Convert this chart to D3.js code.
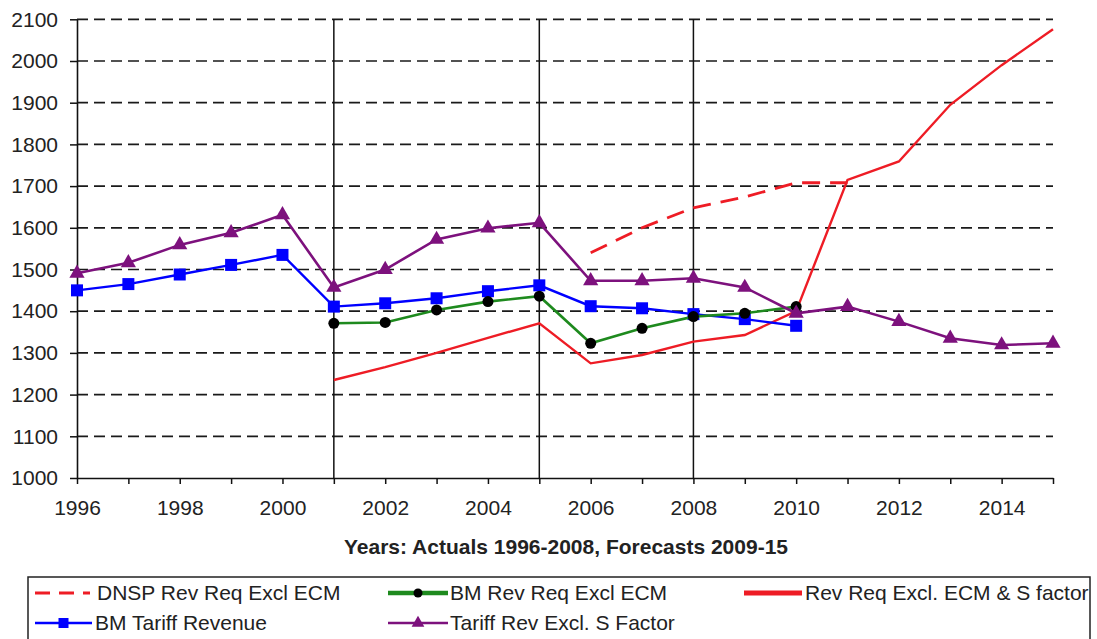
<!DOCTYPE html>
<html>
<head>
<meta charset="utf-8">
<script src="https://cdn.jsdelivr.net/npm/d3@7"></script>
<style>
  html, body { margin: 0; padding: 0; background: #fff; }
  svg { display: block; font-family: "Liberation Sans", Arial, sans-serif; }
</style>
</head>
<body>
<svg id="chart" width="1097" height="639"></svg>
<script>
// ---- data ----
const yearsAll = d3.range(1996, 2016);
const yTicks = d3.range(1000, 2101, 100);
const xLabelYears = [1996, 1998, 2000, 2002, 2004, 2006, 2008, 2010, 2012, 2014];
const dividerYears = [2001, 2005, 2008];

const dnspYears = [2006, 2007, 2008, 2009, 2010, 2011];
const dnspValues = [1540, 1600, 1648, 1674, 1708, 1708];

const revReqYears = [2001, 2002, 2003, 2004, 2005, 2006, 2007, 2008, 2009, 2010, 2011, 2012, 2013, 2014, 2015];
const revReqValues = [1235, 1266, 1300, 1336, 1371, 1275, 1295, 1327, 1343, 1400, 1715, 1759, 1895, 1990, 2076];

const bmTariffYears = [1996, 1997, 1998, 1999, 2000, 2001, 2002, 2003, 2004, 2005, 2006, 2007, 2008, 2009, 2010];
const bmTariffValues = [1450, 1465, 1488, 1511, 1535, 1411, 1419, 1431, 1448, 1462, 1412, 1407, 1393, 1381, 1365];

const bmRevReqYears = [2001, 2002, 2003, 2004, 2005, 2006, 2007, 2008, 2009, 2010];
const bmRevReqValues = [1371, 1373, 1403, 1423, 1436, 1323, 1359, 1387, 1395, 1411];

const tariffExSYears = [1996, 1997, 1998, 1999, 2000, 2001, 2002, 2003, 2004, 2005, 2006, 2007, 2008, 2009, 2010, 2011, 2012, 2013, 2014, 2015];
const tariffExSValues = [1491, 1516, 1559, 1588, 1631, 1457, 1500, 1572, 1599, 1612, 1473, 1473, 1479, 1457, 1395, 1411, 1375, 1335, 1319, 1323];

const xTitle = "Years: Actuals 1996-2008, Forecasts 2009-15";
const legendLabels = ["DNSP Rev Req Excl ECM", "BM Rev Req Excl ECM", "Rev Req Excl. ECM & S factor", "BM Tariff Revenue", "Tariff Rev Excl. S Factor"];

const cRed = "#ee1c25", cBlue = "#0000ff", cGreen = "#1e8a1e", cPurple = "#7d117d";

// ---- scales ----
const svg = d3.select("#chart");
const x = d3.scaleLinear().domain([1996, 2015]).range([77, 1053]);
const y = d3.scaleLinear().domain([1000, 2100]).range([478, 19.3]);

// gridlines
svg.append("g").selectAll("line").data(yTicks.filter(v => v > 1000)).join("line")
  .attr("x1", x(1996)).attr("x2", x(2015))
  .attr("y1", d => y(d)).attr("y2", d => y(d))
  .attr("stroke", "#1a1a1a").attr("stroke-width", 1.7).attr("stroke-dasharray", "11,6");

// divider lines
svg.append("g").selectAll("line").data(dividerYears).join("line")
  .attr("x1", d => x(d)).attr("x2", d => x(d))
  .attr("y1", y(2100)).attr("y2", y(1000))
  .attr("stroke", "#111").attr("stroke-width", 1.5);

// axes
const yAxis = svg.append("g").attr("transform", `translate(${x(1996)},0)`)
  .call(d3.axisLeft(y).tickValues(yTicks).tickFormat(d3.format("d")).tickSize(7).tickSizeOuter(0).tickPadding(12));
const xAxis = svg.append("g").attr("transform", `translate(0,${y(1000)})`)
  .call(d3.axisBottom(x).tickValues(yearsAll).tickFormat(d => xLabelYears.includes(d) ? String(d) : "").tickSize(6).tickSizeOuter(0).tickPadding(16));
[yAxis, xAxis].forEach(g => {
  g.select(".domain").attr("stroke", "#111").attr("stroke-width", 1.6);
  g.selectAll(".tick line").attr("stroke", "#111").attr("stroke-width", 1.5);
  g.selectAll(".tick text").attr("fill", "#222").style("font-size", "21px").style("font-family", "'Liberation Sans', Arial, sans-serif");
});

svg.append("text").attr("x", 566).attr("y", 554).attr("text-anchor", "middle")
  .style("font-size", "21px").style("font-weight", "bold").attr("fill", "#222").text(xTitle);

// lines
const line = d3.line().x(d => x(d[0])).y(d => y(d[1]));
const zip = (a, b) => a.map((v, i) => [v, b[i]]);

svg.append("path").attr("d", line(zip(dnspYears, dnspValues))).attr("fill", "none")
  .attr("stroke", cRed).attr("stroke-width", 2.8).attr("stroke-dasharray", "18,10");
svg.append("path").attr("d", line(zip(revReqYears, revReqValues))).attr("fill", "none")
  .attr("stroke", cRed).attr("stroke-width", 2.4);

svg.append("path").attr("d", line(zip(bmTariffYears, bmTariffValues))).attr("fill", "none")
  .attr("stroke", cBlue).attr("stroke-width", 2.4);
svg.append("g").selectAll("rect").data(zip(bmTariffYears, bmTariffValues)).join("rect")
  .attr("x", d => x(d[0]) - 6).attr("y", d => y(d[1]) - 6).attr("width", 12).attr("height", 12).attr("fill", cBlue);

svg.append("path").attr("d", line(zip(bmRevReqYears, bmRevReqValues))).attr("fill", "none")
  .attr("stroke", cGreen).attr("stroke-width", 2.6);
svg.append("g").selectAll("circle").data(zip(bmRevReqYears, bmRevReqValues)).join("circle")
  .attr("cx", d => x(d[0])).attr("cy", d => y(d[1])).attr("r", 5.5).attr("fill", "#000");

const tri = d3.symbol().type(d3.symbolTriangle).size(100);
svg.append("path").attr("d", line(zip(tariffExSYears, tariffExSValues))).attr("fill", "none")
  .attr("stroke", cPurple).attr("stroke-width", 2.6);
svg.append("g").selectAll("path").data(zip(tariffExSYears, tariffExSValues)).join("path")
  .attr("transform", d => `translate(${x(d[0])},${y(d[1])})`).attr("d", tri).attr("fill", cPurple);

// legend
const lg = svg.append("g");
lg.append("rect").attr("x", 28).attr("y", 577).attr("width", 1062).attr("height", 80)
  .attr("fill", "#fff").attr("stroke", "#222").attr("stroke-width", 1.5);
const items = [
  {x0: 35, x1: 90, ty: 593, tx: 97, label: legendLabels[0], color: cRed, dash: "15,9", w: 3, mark: null},
  {x0: 388, x1: 448, ty: 593, tx: 450, label: legendLabels[1], color: cGreen, dash: null, w: 4.5, mark: "circle"},
  {x0: 744, x1: 802, ty: 593, tx: 805, label: legendLabels[2], color: cRed, dash: null, w: 5, mark: null},
  {x0: 35, x1: 92, ty: 623, tx: 95, label: legendLabels[3], color: cBlue, dash: null, w: 2.5, mark: "square"},
  {x0: 388, x1: 448, ty: 623, tx: 450, label: legendLabels[4], color: cPurple, dash: null, w: 2.5, mark: "triangle"}
];
items.forEach(it => {
  const l = lg.append("line").attr("x1", it.x0).attr("x2", it.x1).attr("y1", it.ty).attr("y2", it.ty)
    .attr("stroke", it.color).attr("stroke-width", it.w);
  if (it.dash) l.attr("stroke-dasharray", it.dash);
  const mx = (it.x0 + it.x1) / 2;
  if (it.mark === "circle") lg.append("circle").attr("cx", mx).attr("cy", it.ty).attr("r", 4.5).attr("fill", "#000");
  if (it.mark === "square") lg.append("rect").attr("x", mx - 5).attr("y", it.ty - 5).attr("width", 10).attr("height", 10).attr("fill", cBlue);
  if (it.mark === "triangle") lg.append("path").attr("transform", `translate(${mx},${it.ty})`).attr("d", d3.symbol().type(d3.symbolTriangle).size(70)).attr("fill", cPurple);
  lg.append("text").attr("x", it.tx).attr("y", it.ty).attr("dy", "0.35em")
    .style("font-size", "21px").attr("fill", "#222").text(it.label);
});
</script>
</body>
</html>
